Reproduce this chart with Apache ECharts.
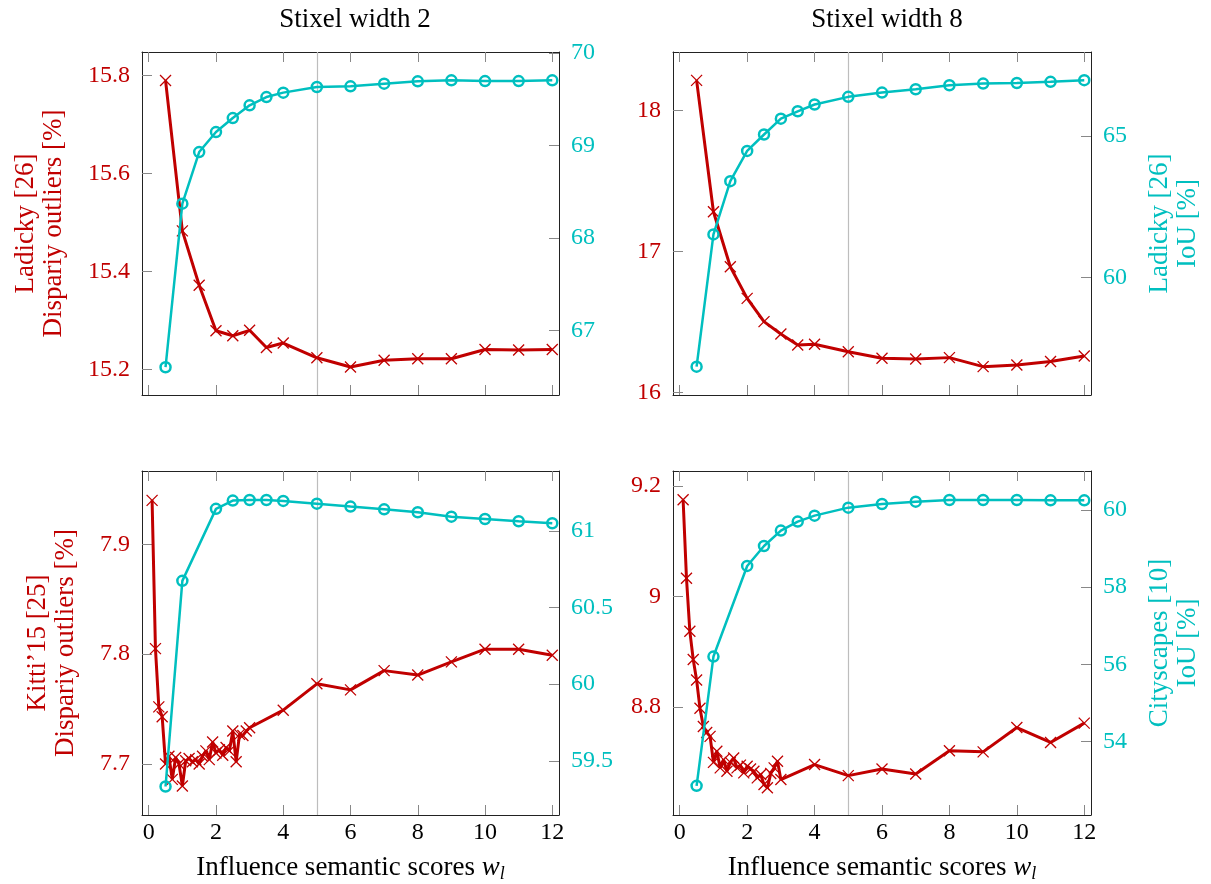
<!DOCTYPE html>
<html><head><meta charset="utf-8">
<script src="https://cdn.jsdelivr.net/npm/echarts@6/dist/echarts.min.js"></script>
<style>html,body{margin:0;padding:0;background:#fff}#c{width:1211px;height:884px}</style>
</head><body><div id="c"></div>
<script>
// ---------- data ----------
const xTicks = [0, 2, 4, 6, 8, 10, 12];

const tlX    = [0.5, 1, 1.5, 2, 2.5, 3, 3.5, 4, 5, 6, 7, 8, 9, 10, 11, 12];
const tlRed  = [15.790, 15.483, 15.372, 15.279, 15.269, 15.280, 15.245, 15.254, 15.224, 15.205, 15.219, 15.222, 15.222, 15.241, 15.240, 15.241];
const tlCyan = [66.605, 68.372, 68.930, 69.146, 69.297, 69.435, 69.524, 69.572, 69.633, 69.640, 69.669, 69.694, 69.705, 69.697, 69.697, 69.705];
const tlLeftTicks  = [15.2, 15.4, 15.6, 15.8];
const tlRightTicks = [67, 68, 69, 70];

const trX    = [0.5, 1, 1.5, 2, 2.5, 3, 3.5, 4, 5, 6, 7, 8, 9, 10, 11, 12];
const trRed  = [18.212, 17.280, 16.890, 16.666, 16.501, 16.414, 16.336, 16.341, 16.288, 16.242, 16.236, 16.246, 16.182, 16.194, 16.218, 16.258];
const trCyan = [56.846, 61.52, 63.40, 64.47, 65.05, 65.61, 65.87, 66.11, 66.38, 66.53, 66.65, 66.79, 66.85, 66.87, 66.91, 66.97];
const trLeftTicks  = [16, 17, 18];
const trRightTicks = [60, 65];

const blRedX = [0.1, 0.2, 0.3, 0.4, 0.5, 0.6, 0.7, 0.8, 0.9, 1.0, 1.1, 1.2, 1.3, 1.4, 1.5, 1.6, 1.7, 1.8, 1.9, 2.0, 2.1, 2.2, 2.3, 2.4, 2.5, 2.6, 2.7, 2.8, 2.9, 3.0, 4, 5, 6, 7, 8, 9, 10, 11, 12];
const blRed  = [7.940, 7.805, 7.752, 7.743, 7.700, 7.707, 7.686, 7.706, 7.700, 7.680, 7.703, 7.705, 7.702, 7.704, 7.700, 7.707, 7.712, 7.704, 7.720, 7.710, 7.713, 7.708, 7.715, 7.712, 7.730, 7.702, 7.727, 7.726, 7.730, 7.733, 7.749, 7.773, 7.7675, 7.785, 7.781, 7.793, 7.8045, 7.8045, 7.799];
const blCyanX = [0.5, 1, 2, 2.5, 3, 3.5, 4, 5, 6, 7, 8, 9, 10, 11, 12];
const blCyan  = [59.332, 60.674, 61.144, 61.198, 61.202, 61.202, 61.196, 61.178, 61.159, 61.141, 61.122, 61.093, 61.078, 61.063, 61.050];
const blLeftTicks  = [7.7, 7.8, 7.9];
const blRightTicks = [59.5, 60, 60.5, 61];

const brRedX = [0.1, 0.2, 0.3, 0.4, 0.5, 0.6, 0.7, 0.8, 0.9, 1.0, 1.1, 1.2, 1.3, 1.4, 1.5, 1.6, 1.7, 1.8, 1.9, 2.0, 2.1, 2.2, 2.3, 2.4, 2.5, 2.6, 2.7, 2.8, 2.9, 3.0, 4, 5, 6, 7, 8, 9, 10, 11, 12];
const brRed  = [9.175, 9.033, 8.937, 8.886, 8.849, 8.798, 8.765, 8.754, 8.747, 8.700, 8.720, 8.690, 8.705, 8.684, 8.700, 8.708, 8.690, 8.695, 8.681, 8.693, 8.688, 8.684, 8.672, 8.678, 8.660, 8.654, 8.680, 8.690, 8.702, 8.669, 8.696, 8.676, 8.688, 8.679, 8.721, 8.719, 8.763, 8.736, 8.771];
const brCyanX = [0.5, 1, 2, 2.5, 3, 3.5, 4, 5, 6, 7, 8, 9, 10, 11, 12];
const brCyan  = [52.85, 56.20, 58.549, 59.067, 59.465, 59.698, 59.853, 60.06, 60.155, 60.216, 60.259, 60.259, 60.259, 60.25, 60.25];
const brLeftTicks  = [8.8, 9, 9.2];
const brRightTicks = [54, 56, 58, 60];

const titles = ['Stixel width 2', 'Stixel width 8'];
const xName = 'Influence semantic scores {it|w}{sub|l}';

// ---------- styling ----------
const FONT = 'Liberation Serif';
const RED = '#c00000';
const CYAN = '#00bfbf';
const FS_TICK = 24;
const FS_NAME = 27;
const CROSS = 'path://M0,0L10,10M10,0L0,10';

const grids = [
  {left: 142, top: 52, width: 417, height: 343},
  {left: 673, top: 52, width: 418, height: 343},
  {left: 142, top: 471, width: 417, height: 344},
  {left: 673, top: 471, width: 418, height: 344}
];

function xAx(g, pos, labels) {
  return {
    type: 'value', gridIndex: g, position: pos, min: -0.2, max: 12.2,
    axisLine: {show: true, onZero: false, lineStyle: {color: '#222', width: 1}},
    axisTick: {show: true, inside: true, length: 10, customValues: xTicks, lineStyle: {color: '#888', width: 1}},
    axisLabel: {show: labels, customValues: xTicks, color: '#000', fontFamily: FONT, fontSize: FS_TICK, margin: 6},
    splitLine: {show: false},
    name: labels ? xName : '', nameLocation: 'middle', nameGap: 38,
    nameTextStyle: {color: '#000', fontFamily: FONT, fontSize: FS_NAME,
      rich: {it: {fontFamily: FONT, fontStyle: 'italic', fontSize: FS_NAME, color: '#000'},
             sub: {fontFamily: FONT, fontStyle: 'italic', fontSize: 18, color: '#000', padding: [12, 0, 0, 0]}}}
  };
}
function yAx(g, pos, min, max, ticks, color, name, gap) {
  return {
    type: 'value', gridIndex: g, position: pos, min: min, max: max,
    axisLine: {show: true, onZero: false, lineStyle: {color: '#222', width: 1}},
    axisTick: {show: true, inside: true, length: 10, customValues: ticks, lineStyle: {color: '#888', width: 1}},
    axisLabel: {show: true, customValues: ticks, color: color, fontFamily: FONT, fontSize: FS_TICK, margin: 12},
    splitLine: {show: false},
    name: name || '', nameLocation: 'middle', nameRotate: 90, nameGap: gap || 0,
    nameTextStyle: {color: color, fontFamily: FONT, fontSize: FS_NAME, lineHeight: 28, align: 'center'}
  };
}

const xAxis = [], yAxis = [];
for (let g = 0; g < 4; g++) {
  xAxis.push(xAx(g, 'bottom', g >= 2));
  xAxis.push(xAx(g, 'top', false));
}
yAxis.push(yAx(0, 'left', 15.148, 15.848, tlLeftTicks, RED, 'Ladicky [26]\nDispariy outliers [%]', 74));
yAxis.push(yAx(0, 'right', 66.305, 70.011, tlRightTicks, CYAN));
yAxis.push(yAx(1, 'left', 15.981, 18.413, trLeftTicks, RED));
yAxis.push(yAx(1, 'right', 55.846, 67.965, trRightTicks, CYAN, 'Ladicky [26]\nIoU [%]', 55));
yAxis.push(yAx(2, 'left', 7.6536, 7.9667, blLeftTicks, RED, 'Kitti\u201915 [25]\nDispariy outliers [%]', 62));
yAxis.push(yAx(2, 'right', 59.146, 61.391, blRightTicks, CYAN));
yAxis.push(yAx(3, 'left', 8.6048, 9.227, brLeftTicks, RED));
yAxis.push(yAx(3, 'right', 52.093, 61.01, brRightTicks, CYAN, 'Cityscapes [10]\nIoU [%]', 55));

function zip(xs, ys) { return xs.map((x, i) => [x, ys[i]]); }
function redSeries(g, xs, ys) {
  return {
    type: 'line', xAxisIndex: g * 2, yAxisIndex: g * 2, data: zip(xs, ys),
    symbol: CROSS, symbolSize: 11, showSymbol: true, z: 3,
    lineStyle: {color: RED, width: 3}, itemStyle: {color: 'rgba(0,0,0,0)', borderColor: RED, borderWidth: 1.3},
    animation: false,
    markLine: {silent: true, symbol: 'none', label: {show: false}, z: 1,
      lineStyle: {color: '#bdbdbd', type: 'solid', width: 1.2}, data: [{xAxis: 5}]}
  };
}
function cyanSeries(g, xs, ys) {
  return {
    type: 'line', xAxisIndex: g * 2, yAxisIndex: g * 2 + 1, data: zip(xs, ys),
    symbol: 'circle', symbolSize: 10, showSymbol: true, z: 4,
    lineStyle: {color: CYAN, width: 2.5}, itemStyle: {color: 'rgba(0,0,0,0)', borderColor: CYAN, borderWidth: 2.5},
    animation: false
  };
}

const option = {
  backgroundColor: '#fff',
  animation: false,
  title: [
    {text: titles[0], left: 350, top: 1, textAlign: 'center', textStyle: {fontFamily: FONT, fontSize: FS_NAME, fontWeight: 'normal', color: '#000'}},
    {text: titles[1], left: 882, top: 1, textAlign: 'center', textStyle: {fontFamily: FONT, fontSize: FS_NAME, fontWeight: 'normal', color: '#000'}}
  ],
  grid: grids,
  xAxis: xAxis,
  yAxis: yAxis,
  series: [
    redSeries(0, tlX, tlRed), cyanSeries(0, tlX, tlCyan),
    redSeries(1, trX, trRed), cyanSeries(1, trX, trCyan),
    redSeries(2, blRedX, blRed), cyanSeries(2, blCyanX, blCyan),
    redSeries(3, brRedX, brRed), cyanSeries(3, brCyanX, brCyan)
  ]
};
const chart = echarts.init(document.getElementById('c'), null, {renderer: 'canvas'});
chart.setOption(option);
</script></body></html>
